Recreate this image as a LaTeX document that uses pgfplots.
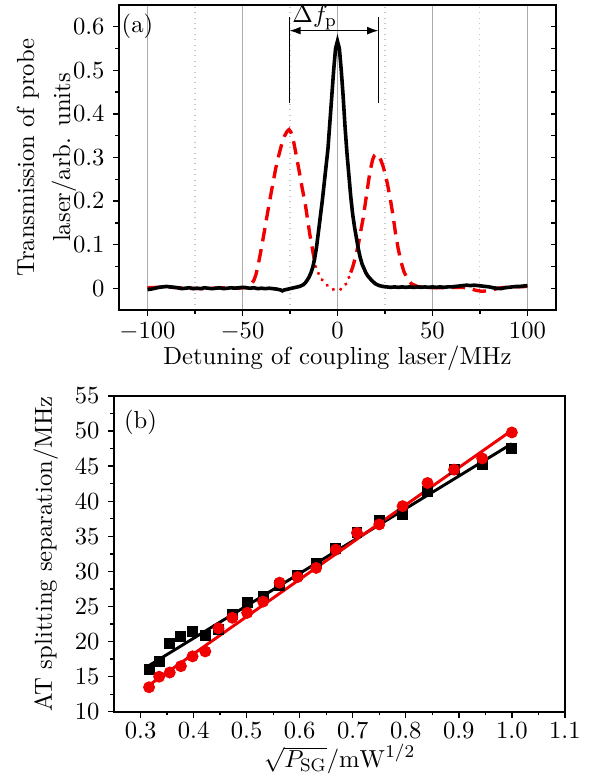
\documentclass[border=0pt,11pt]{standalone}
\usepackage{pgfplots}
\pgfplotsset{compat=1.18}
\usetikzlibrary{arrows.meta}

\definecolor{fitred}{RGB}{240,0,0}

\begin{document}
\begin{tikzpicture}
\path[use as bounding box] (0,0) rectangle (263.6pt,-347.6pt);

% ---------------- panel (a) ----------------
\begin{axis}[
    at={(52.9pt,-2.2pt)}, anchor=north west,
    scale only axis, width=194.2pt, height=135.6pt,
    xmin=-115, xmax=115, ymin=-0.05, ymax=0.65,
    xtick={-100,-50,...,100}, minor x tick num=1,
    ytick={0,0.1,...,0.6}, minor y tick num=1,
    xtick pos=bottom, ytick pos=left, tick align=outside,
    major tick length=2.6pt, minor tick length=1.8pt,
    xmajorgrids, xminorgrids,
    major grid style={gray!65, line width=0.5pt},
    minor grid style={gray!45, dotted, line width=0.5pt},
    axis line style={line width=0.8pt},
    every tick/.style={black, line width=0.6pt},
    xticklabel style={yshift=1pt},
    xlabel={Detuning of coupling laser/MHz},
    xlabel style={yshift=5pt},
    ylabel={Transmission of probe\\[2.5pt]laser/arb. units},
    ylabel style={align=center, yshift=-9pt},
    clip=true,
]
% red (dressed) spectrum: outer parts dashed, centre dotted
\addplot[fitred, line width=1.5pt, dash pattern=on 6pt off 3.5pt] coordinates {
(-100,0.001) (-90,0.003) (-80,0.000) (-70,-0.001) (-60,0.001) (-52,0.000)
(-48,0.002) (-46,0.006) (-44,0.018) (-43,0.030) (-42,0.048) (-41,0.070)
(-40,0.093) (-38.5,0.130) (-37,0.168) (-35.5,0.205) (-34,0.240) (-32.5,0.275)
(-31,0.303) (-29.5,0.328) (-28,0.348) (-26.5,0.360) (-25.5,0.364) (-24.5,0.358)
(-23,0.335) (-21.5,0.300) (-20,0.265) (-18.5,0.228) (-17,0.195) (-15.8,0.160)
(-14.6,0.125) (-13,0.085) (-11.5,0.050)
};
\addplot[fitred, line width=1.5pt, line cap=round, dash pattern=on 0.1pt off 3.2pt] coordinates {
(-11.5,0.050) (-10,0.034) (-8,0.019) (-6,0.009) (-4,0.002) (-2,-0.003)
(0,-0.004) (2,-0.002) (4,0.006) (5.5,0.018) (7,0.036)
};
\addplot[fitred, line width=1.5pt, dash pattern=on 6pt off 3.5pt] coordinates {
(7,0.036) (8,0.048) (9.5,0.072) (11,0.100) (12,0.125) (13.5,0.160) (14.5,0.190)
(15.5,0.220) (16.5,0.250) (17.5,0.275) (18.5,0.295) (19.5,0.305) (20.5,0.308)
(21.5,0.305) (22.5,0.298) (24,0.280) (25.3,0.260) (26.5,0.235) (28,0.200)
(29.3,0.165) (30.6,0.125) (32,0.090) (33.5,0.060) (35,0.038) (37,0.020)
(39,0.010) (42,0.004) (46,0.002) (52,0.001) (60,0.002) (66,0.002) (70,-0.001)
(73,-0.005) (76,-0.007) (79,-0.006) (82,-0.003) (86,0.001) (92,0.003) (100,0.004)
};
% black (bare) spectrum
\addplot[black, line width=1.6pt] coordinates {
(-100,-0.003) (-98,-0.002) (-96,0.000) (-94,0.002) (-92,0.003) (-90,0.004)
(-88,0.003) (-86,0.002) (-84,0.001) (-82,-0.001) (-80,0.000) (-78,0.001)
(-76,-0.001) (-74,0.000) (-72,-0.001) (-70,0.001) (-68,0.000) (-66,-0.001)
(-64,0.000) (-62,0.001) (-60,-0.001) (-58,0.000) (-56,0.001) (-54,0.000)
(-52,0.001) (-50,0.002) (-48,0.001) (-46,0.000) (-44,0.001) (-42,-0.001)
(-40,0.000) (-38,-0.001) (-36,0.000) (-34,-0.001) (-32,-0.002) (-30,-0.004)
(-29,-0.006) (-28,-0.004) (-26,-0.002) (-24,0.000) (-22,0.002) (-20,0.004)
(-18,0.008) (-17,0.012) (-16,0.018) (-15,0.025) (-14,0.035) (-13,0.048)
(-12,0.068) (-11,0.095) (-10,0.130) (-9,0.165) (-8,0.200) (-7,0.240)
(-6,0.280) (-5,0.320) (-4,0.380) (-3,0.440) (-2,0.500) (-1,0.550) (0,0.567)
(1,0.550) (2,0.500) (3,0.440) (4,0.370) (5,0.310) (6,0.260) (7,0.210)
(8,0.170) (9,0.140) (10,0.115) (11,0.090) (12,0.070) (13,0.055) (14,0.045)
(15,0.035) (16,0.028) (18,0.018) (20,0.010) (22,0.006) (24,0.004) (26,0.003)
(28,0.002) (30,0.003) (32,0.002) (34,0.003) (36,0.002) (38,0.003) (40,0.002)
(42,0.003) (44,0.002) (46,0.003) (48,0.002) (50,0.003) (52,0.002) (54,0.003)
(56,0.002) (58,0.003) (60,0.003) (62,0.004) (64,0.005) (66,0.006) (68,0.007)
(70,0.006) (72,0.007) (74,0.006) (76,0.005) (78,0.004) (80,0.003) (82,0.001)
(84,0.000) (86,-0.001) (88,0.001) (90,0.002) (92,0.003) (94,0.004) (96,0.004)
(98,0.005) (100,0.006)
};
% splitting annotation
\draw[line width=0.6pt] (axis cs:-25.3,0.425) -- (axis cs:-25.3,0.622);
\draw[line width=0.6pt] (axis cs:21.6,0.425) -- (axis cs:21.6,0.622);
\draw[line width=0.6pt, {Latex[length=5pt,width=3.5pt]}-{Latex[length=5pt,width=3.5pt]}]
    (axis cs:-25.3,0.591) -- (axis cs:21.6,0.591);
\node[anchor=base, inner sep=0pt] at (axis cs:-12,0.610) {$\Delta f_\mathrm{p}$};
\node[anchor=west, inner sep=1pt] at (axis cs:-115,0.6) {(a)};
\end{axis}
% right-hand inward ticks of panel (a)
\begin{axis}[
    at={(52.9pt,-2.2pt)}, anchor=north west,
    scale only axis, width=194.2pt, height=135.6pt,
    xmin=-115, xmax=115, ymin=-0.05, ymax=0.65,
    axis x line=none, axis y line*=right,
    ytick={0,0.1,...,0.6}, minor y tick num=1, yticklabels={},
    tick align=inside, major tick length=2.2pt, minor tick length=2.2pt,
    axis line style={line width=0.8pt},
    every tick/.style={black, line width=0.6pt},
]
\end{axis}

% ---------------- panel (b) ----------------
\begin{axis}[
    at={(50.7pt,-176pt)}, anchor=north west,
    scale only axis, width=200.4pt, height=140.4pt,
    xmin=0.25, xmax=1.1, ymin=10, ymax=55,
    xtick={0.3,0.4,...,1.1}, minor x tick num=1,
    ytick={10,15,...,55}, minor y tick num=1,
    xtick pos=bottom, ytick pos=left, tick align=outside,
    major tick length=2.6pt, minor tick length=1.6pt,
    xticklabel style={yshift=1.5pt, /pgf/number format/.cd, fixed, fixed zerofill, precision=1},
    axis line style={line width=0.8pt},
    every tick/.style={black, line width=0.6pt},
    xlabel={$\sqrt{P_\mathrm{SG}}/\mathrm{mW}^{1/2}$},
    xlabel style={yshift=5pt},
    ylabel={AT splitting separation/MHz},
]
\addplot[only marks, mark=square*, mark size=2.2pt, black] coordinates {
(0.316,16.0) (0.335,17.2) (0.355,19.7) (0.376,20.7) (0.398,21.4) (0.422,20.9)
(0.447,21.7) (0.473,23.9) (0.501,25.6) (0.531,26.5) (0.562,28.0) (0.596,29.5)
(0.631,31.1) (0.668,33.3) (0.708,35.6) (0.750,37.3) (0.794,38.1) (0.841,41.4)
(0.891,44.5) (0.944,45.3) (1.000,47.5)
};
\addplot[black, line width=1.3pt] coordinates {(0.316,16.6) (1.000,48.2)};
\addplot[only marks, mark=*, mark size=2.45pt, fitred] coordinates {
(0.316,13.5) (0.335,15.0) (0.355,15.6) (0.376,16.5) (0.398,17.9) (0.422,18.6)
(0.447,21.9) (0.473,23.4) (0.501,24.1) (0.531,25.7) (0.562,28.4) (0.596,29.2)
(0.631,30.5) (0.668,33.1) (0.708,35.5) (0.750,36.7) (0.794,39.3) (0.841,42.6)
(0.891,44.5) (0.944,46.1) (1.000,49.8)
};
\addplot[fitred, line width=1.3pt] coordinates {(0.316,13.8) (1.000,50.1)};
\node at (axis cs:0.30,51.2) {(b)};
\end{axis}
\end{tikzpicture}
\end{document}
